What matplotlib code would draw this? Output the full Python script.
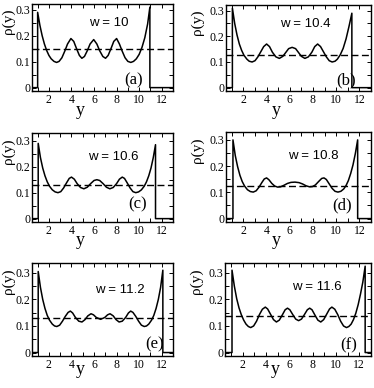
import matplotlib
matplotlib.use("Agg")
import matplotlib.pyplot as plt
from matplotlib.ticker import MultipleLocator

# panel labels / slit widths
panels = ["(a)", "(b)", "(c)", "(d)", "(e)", "(f)"]
widths = ["w = 10", "w = 10.4", "w = 10.6", "w = 10.8", "w = 11.2", "w = 11.6"]

# mean density (dashed line)
rho_mean = [0.15, 0.127, 0.13, 0.123, 0.131, 0.139]

# wall positions (left, right)
walls = [(1.0, 10.95), (1.05, 11.35), (1.05, 11.45), (1.1, 11.85), (1.05, 12.1), (1.1, 12.5)]

# density profiles between the walls
y_a = [1.0, 1.2, 1.4, 1.6, 1.8, 2.0, 2.2, 2.45, 2.68, 2.9, 3.15, 3.4, 3.65, 3.95, 4.2, 4.45,
       4.7, 4.92, 5.15, 5.4, 5.65, 5.97, 6.25, 6.5, 6.78, 7.02, 7.25, 7.5, 7.75, 8.0, 8.25,
       8.5, 8.75, 9.0, 9.26, 9.5, 9.75, 10.0, 10.25, 10.5, 10.75, 10.95]
rho_a = [0.29, 0.24, 0.2, 0.168, 0.143, 0.124, 0.111, 0.101, 0.097, 0.101, 0.115, 0.14, 0.168,
         0.189, 0.178, 0.15, 0.124, 0.113, 0.12, 0.142, 0.168, 0.185, 0.168, 0.142, 0.12, 0.113,
         0.124, 0.15, 0.178, 0.189, 0.168, 0.14, 0.115, 0.101, 0.097, 0.101, 0.111, 0.128,
         0.155, 0.192, 0.245, 0.31]

y_b = [1.05, 1.25, 1.45, 1.65, 1.85, 2.05, 2.3, 2.5, 2.75, 3.0, 3.25, 3.5, 3.75, 4.0, 4.25,
       4.5, 4.8, 5.1, 5.4, 5.65, 5.9, 6.2, 6.5, 6.75, 7.0, 7.3, 7.6, 7.9, 8.15, 8.4, 8.65,
       8.9, 9.15, 9.4, 9.65, 9.9, 10.1, 10.35, 10.6, 10.85, 11.1, 11.35]
rho_b = [0.31, 0.25, 0.205, 0.17, 0.145, 0.126, 0.111, 0.103, 0.1, 0.105, 0.12, 0.14, 0.16,
         0.17, 0.16, 0.138, 0.12, 0.114, 0.122, 0.137, 0.152, 0.157, 0.152, 0.137, 0.122,
         0.114, 0.12, 0.138, 0.16, 0.17, 0.16, 0.14, 0.12, 0.105, 0.1, 0.103, 0.111, 0.128,
         0.153, 0.19, 0.238, 0.29]

y_c = [1.05, 1.25, 1.45, 1.65, 1.85, 2.05, 2.3, 2.55, 2.8, 3.05, 3.3, 3.55, 3.8, 4.0, 4.25,
       4.5, 4.8, 5.1, 5.4, 5.7, 6.0, 6.25, 6.5, 6.8, 7.1, 7.4, 7.7, 8.0, 8.25, 8.5, 8.7,
       8.95, 9.2, 9.45, 9.7, 9.95, 10.2, 10.45, 10.65, 10.85, 11.05, 11.25, 11.45]
rho_c = [0.29, 0.235, 0.195, 0.165, 0.142, 0.125, 0.111, 0.103, 0.1, 0.104, 0.118, 0.137,
         0.155, 0.16, 0.152, 0.135, 0.12, 0.115, 0.121, 0.135, 0.147, 0.15, 0.147, 0.135,
         0.121, 0.115, 0.12, 0.135, 0.152, 0.16, 0.155, 0.137, 0.118, 0.104, 0.1, 0.103,
         0.111, 0.125, 0.142, 0.165, 0.195, 0.235, 0.285]

y_d = [1.1, 1.3, 1.5, 1.7, 1.9, 2.1, 2.35, 2.6, 2.85, 3.1, 3.35, 3.6, 3.8, 4.0, 4.2, 4.45,
       4.7, 4.95, 5.2, 5.5, 5.8, 6.1, 6.45, 6.8, 7.1, 7.4, 7.7, 7.95, 8.2, 8.5, 8.75, 8.95,
       9.15, 9.4, 9.65, 9.9, 10.15, 10.4, 10.65, 10.85, 11.05, 11.25, 11.45, 11.65, 11.85]
rho_d = [0.30, 0.24, 0.198, 0.165, 0.141, 0.124, 0.11, 0.103, 0.101, 0.106, 0.12, 0.138,
         0.151, 0.155, 0.148, 0.134, 0.124, 0.12, 0.121, 0.127, 0.134, 0.138, 0.139, 0.137,
         0.132, 0.125, 0.121, 0.122, 0.128, 0.142, 0.153, 0.155, 0.149, 0.132, 0.115, 0.104,
         0.101, 0.104, 0.113, 0.126, 0.145, 0.172, 0.205, 0.248, 0.30]

y_e = [1.05, 1.25, 1.45, 1.65, 1.85, 2.05, 2.3, 2.5, 2.7, 2.95, 3.2, 3.45, 3.7, 3.9, 4.1,
       4.35, 4.65, 4.93, 5.2, 5.45, 5.73, 5.95, 6.2, 6.58, 6.95, 7.2, 7.42, 7.7, 7.95, 8.22,
       8.5, 8.8, 9.05, 9.25, 9.45, 9.7, 9.95, 10.2, 10.45, 10.65, 10.85, 11.1, 11.3, 11.5,
       11.7, 11.9, 12.1]
rho_e = [0.305, 0.245, 0.2, 0.166, 0.14, 0.122, 0.107, 0.1, 0.098, 0.103, 0.118, 0.136,
         0.151, 0.156, 0.149, 0.132, 0.118, 0.115, 0.124, 0.138, 0.146, 0.142, 0.132, 0.125,
         0.132, 0.142, 0.146, 0.138, 0.124, 0.115, 0.118, 0.132, 0.149, 0.156, 0.151, 0.136,
         0.118, 0.103, 0.098, 0.1, 0.107, 0.122, 0.14, 0.166, 0.2, 0.245, 0.31]

y_f = [1.1, 1.3, 1.5, 1.7, 1.9, 2.1, 2.3, 2.5, 2.7, 2.95, 3.2, 3.45, 3.7, 3.95, 4.15, 4.4,
       4.65, 4.9, 5.15, 5.4, 5.65, 5.85, 6.05, 6.3, 6.55, 6.8, 7.05, 7.3, 7.55, 7.75, 7.95,
       8.2, 8.45, 8.7, 8.95, 9.2, 9.45, 9.65, 9.9, 10.15, 10.4, 10.65, 10.9, 11.1, 11.3,
       11.5, 11.7, 11.9, 12.1, 12.3, 12.5]
rho_f = [0.31, 0.25, 0.203, 0.168, 0.142, 0.122, 0.107, 0.098, 0.094, 0.1, 0.118, 0.143,
         0.163, 0.171, 0.164, 0.144, 0.124, 0.115, 0.122, 0.141, 0.161, 0.167, 0.161, 0.143,
         0.126, 0.12, 0.126, 0.143, 0.161, 0.167, 0.161, 0.141, 0.122, 0.115, 0.124, 0.144,
         0.164, 0.171, 0.163, 0.143, 0.118, 0.1, 0.094, 0.098, 0.107, 0.124, 0.148, 0.18,
         0.22, 0.265, 0.325]

profiles = [(y_a, rho_a), (y_b, rho_b), (y_c, rho_c), (y_d, rho_d), (y_e, rho_e), (y_f, rho_f)]

xticks = [2, 4, 6, 8, 10, 12]
yticks = [0, 0.1, 0.2, 0.3]
ytick_labels = ["0", "0.1", "0.2", "0.3"]

# axes boxes in pixels (left, top, right, bottom) on a 374x388 canvas
W, H = 374.0, 388.0
boxes = [(32, 4, 173, 91), (226, 5, 371, 91),
         (32, 133, 173, 222), (226, 132, 371, 222),
         (32, 263, 173, 356), (225, 263, 371, 356)]
ytops = [0.322, 0.322, 0.33, 0.33, 0.337, 0.337]
# text placement in axes fraction
w_pos = [(0.543, 0.787), (0.545, 0.78), (0.577, 0.728), (0.602, 0.736), (0.624, 0.705), (0.628, 0.741)]
lab_pos = [(0.72, 0.126), (0.826, 0.12), (0.748, 0.2), (0.797, 0.19), (0.869, 0.12), (0.85, 0.116)]
ylab_x = [-0.118, -0.15, -0.118, -0.15, -0.118, -0.15]
xlab_y = [-0.13, -0.13, -0.11, -0.11, -0.05, -0.05]

serif = "Liberation Serif"
sans = "Liberation Sans"

fig = plt.figure(figsize=(3.74, 3.88), dpi=100)

for i in range(6):
    l, t, r, b = boxes[i]
    ax = fig.add_axes([l / W, 1 - b / H, (r - l) / W, (b - t) / H])
    yy, rr = profiles[i]
    wl, wr = walls[i]
    # zero density outside the walls, vertical jump at each wall
    xs = [0.5, wl] + yy + [wr, 13.0]
    ys = [0.0, 0.0] + rr + [0.0, 0.0]
    ax.plot(xs, ys, color="black", lw=1.1)
    ax.axhline(rho_mean[i], color="black", lw=1.0, ls=(0, (5, 2.5)))

    ax.set_xlim(0.5, 13.0)
    ax.set_ylim(-0.013, ytops[i])
    ax.set_xticks(xticks)
    ax.set_yticks(yticks)
    ax.set_yticklabels(ytick_labels)
    ax.xaxis.set_minor_locator(MultipleLocator(1))
    ax.yaxis.set_minor_locator(MultipleLocator(0.05))
    ax.tick_params(which="both", direction="in", top=True, right=True,
                   length=3, width=0.7, pad=2)
    ax.tick_params(axis="y", pad=1)
    for lab in ax.get_xticklabels() + ax.get_yticklabels():
        lab.set_fontfamily(serif)
        lab.set_fontsize(8.5)
    for s in ax.spines.values():
        s.set_linewidth(1.0)

    ax.set_ylabel("\u03c1(y)", fontfamily=serif, fontsize=11)
    ax.yaxis.set_label_coords(ylab_x[i], 0.8)
    ax.set_xlabel("y", fontfamily=serif, fontsize=13)
    ax.xaxis.set_label_coords(0.345, xlab_y[i])

    ax.text(w_pos[i][0], w_pos[i][1], widths[i], transform=ax.transAxes,
            ha="center", va="center", fontfamily=sans, fontsize=9.5)
    ax.text(lab_pos[i][0], lab_pos[i][1], panels[i], transform=ax.transAxes,
            ha="center", va="center", fontfamily=serif, fontsize=12)

fig.savefig("out.png", dpi=100)
